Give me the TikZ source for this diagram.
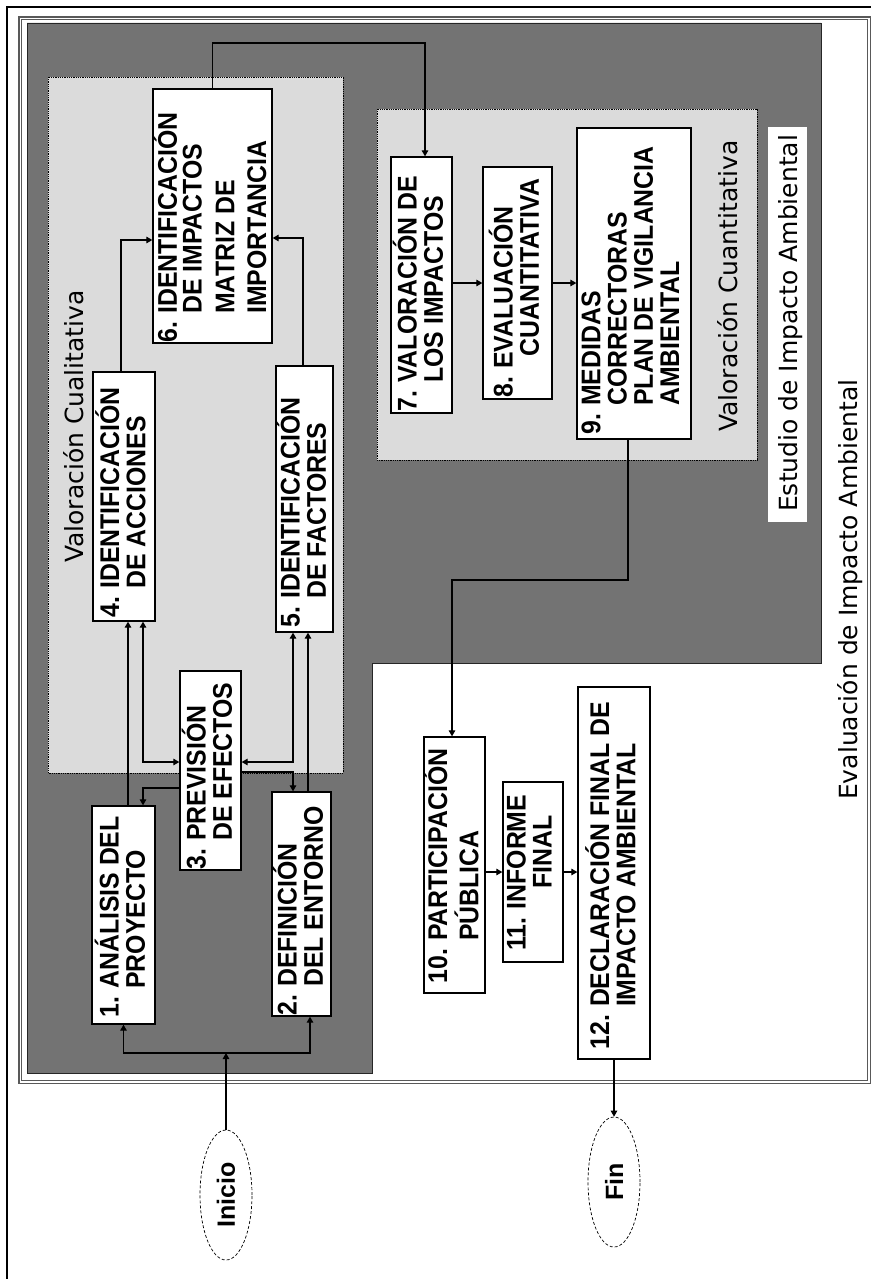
\documentclass[tikz,border=0pt]{standalone}
\usepackage{fontspec}
\setmainfont{Liberation Sans}
\newfontfamily\lblfont{DejaVu Sans}
\newfontfamily\boxfont[FakeStretch=0.92]{Liberation Sans}
\usetikzlibrary{arrows.meta,shapes.geometric}
\definecolor{darkfill}{gray}{0.45}
\definecolor{lightfill}{gray}{0.86}
\definecolor{framegray}{gray}{0.35}
\begin{document}
\begin{tikzpicture}[x=1pt,y=-1pt,
  darkarea/.style={fill=darkfill, draw=black!85, line width=0.8pt},
  lightarea/.style={fill=lightfill, draw=black, line width=0.8pt, densely dotted},
  box/.style={draw=black, fill=white, line width=1.3pt, inner sep=0pt},
  btext/.style={rotate=90, anchor=west, inner sep=0pt, align=left,
    font=\boxfont\fontsize{27}{25}\selectfont\bfseries},
  lbl/.style={rotate=90, anchor=base west, inner sep=0pt,
    font=\lblfont\fontsize{25}{27}\selectfont},
  term/.style={ellipse, draw=black, densely dashed, line width=0.7pt, fill=white,
    minimum width=52pt, minimum height=130pt, inner sep=0pt,
    font=\fontsize{25}{25}\selectfont\bfseries},
  arr/.style={line width=1.2pt, -{Triangle[length=6pt,width=6.5pt]}},
  arrboth/.style={line width=1.2pt, {Triangle[length=6pt,width=6.5pt]}-{Triangle[length=6pt,width=6.5pt]}}
]
\useasboundingbox (0,0) rectangle (871,1279);
\fill[white] (0,0) rectangle (871,1279);

% outer frame (only left and top visible)
\draw[line width=1.8pt] (7,1279) -- (7,7) -- (871,7);
% double frame: Evaluacion de Impacto Ambiental
\draw[framegray, line width=1.1pt] (19,17) rectangle (870.3,1083.3);
\draw[framegray, line width=1.1pt] (21.8,19.6) rectangle (867.8,1080.6);

% dark area: Estudio de Impacto Ambiental
\draw[darkarea] (27,23) -- (821,23) -- (821,663) -- (372,663) -- (372,1073) -- (27,1073) -- cycle;

% light areas
\draw[lightarea] (48,77) rectangle (343,773);
\draw[lightarea] (377,109) rectangle (757,460);

% label background
\fill[white] (768,127) rectangle (807,522);

% labels
\node[lbl] (lcual) at (83,563) {Valoración Cualitativa};
\node[lbl] (lcuan) at (737,432) {Valoración Cuantitativa};
\node[lbl] (lest) at (797,512) {Estudio de Impacto Ambiental};
\node[lbl] (leva) at (857,800) {Evaluación de Impacto Ambiental};

% boxes
\node[box, minimum width=63pt, minimum height=218pt] (b1) at (123.5,915) {};
\node[box, minimum width=59pt, minimum height=224pt] (b2) at (301.5,904) {};
\node[box, minimum width=61pt, minimum height=199pt] (b3) at (210.5,770.5) {};
\node[box, minimum width=62pt, minimum height=249pt] (b4) at (124,496.5) {};
\node[box, minimum width=57pt, minimum height=266pt] (b5) at (304.5,499) {};
\node[box, minimum width=119pt, minimum height=254pt] (b6) at (212.5,216) {};
\node[box, minimum width=61pt, minimum height=256pt] (b7) at (421.5,285) {};
\node[box, minimum width=69pt, minimum height=232pt] (b8) at (517.5,283) {};
\node[box, minimum width=114pt, minimum height=311pt] (b9) at (634,283.5) {};
\node[box, minimum width=61pt, minimum height=256pt] (b10) at (454.5,865) {};
\node[box, minimum width=60pt, minimum height=180pt] (b11) at (533,872) {};
\node[box, minimum width=72pt, minimum height=372pt] (b12) at (614,873) {};

% box texts
\node[btext] (t1) at ([yshift=7pt]b1.south) {\begin{tabular}{@{}l@{\hspace{8pt}}l@{}}1. & ANÁLISIS DEL\\ & PROYECTO\end{tabular}};
\node[btext] (t2) at ([yshift=1pt]b2.south) {\begin{tabular}{@{}l@{\hspace{8pt}}l@{}}2. & DEFINICIÓN\\ & DEL ENTORNO\end{tabular}};
\node[btext] (t3) at ([yshift=1pt]b3.south) {\begin{tabular}{@{}l@{\hspace{8pt}}l@{}}3. & PREVISIÓN\\ & DE EFECTOS\end{tabular}};
\node[btext] (t4) at ([yshift=4pt]b4.south) {\begin{tabular}{@{}l@{\hspace{8pt}}l@{}}4. & IDENTIFICACIÓN\\ & DE ACCIONES\end{tabular}};
\node[btext] (t5) at ([yshift=5pt]b5.south) {\begin{tabular}{@{}l@{\hspace{8pt}}l@{}}5. & IDENTIFICACIÓN\\ & DE FACTORES\end{tabular}};
\node[btext, font=\boxfont\fontsize{27}{20}\selectfont\bfseries] (t6) at ([yshift=1pt]b6.south) {\begin{tabular}{@{}l@{\hspace{8pt}}l@{}}6. & IDENTIFICACIÓN\\ & DE IMPACTOS\\[8pt] & MATRIZ DE\\[7pt] & IMPORTANCIA\end{tabular}};
\node[btext] (t7) at ([yshift=2pt]b7.south) {\begin{tabular}{@{}l@{\hspace{8pt}}l@{}}7. & VALORACIÓN DE\\ & LOS IMPACTOS\end{tabular}};
\node[btext] (t8) at ([yshift=2pt]b8.south) {\begin{tabular}{@{}l@{\hspace{8pt}}l@{}}8. & EVALUACIÓN\\ & \hspace{12pt}CUANTITATIVA\end{tabular}};
\node[btext] (t9) at ([yshift=5pt]b9.south) {\begin{tabular}{@{}l@{\hspace{8pt}}l@{}}9. & MEDIDAS\\ & CORRECTORAS\\ & PLAN DE VIGILANCIA\\ & AMBIENTAL\end{tabular}};
\node[btext] (t10) at ([yshift=10pt]b10.south) {\begin{tabular}{@{}l@{\hspace{8pt}}l@{}}10. & PARTICIPACIÓN\\ & PÚBLICA\end{tabular}};
\node[btext] (t11) at ([yshift=12pt]b11.south) {\begin{tabular}{@{}l@{\hspace{8pt}}c@{}}11. & INFORME\\ & FINAL\end{tabular}};
\node[btext] (t12) at ([yshift=10pt]b12.south) {\begin{tabular}{@{}l@{\hspace{8pt}}l@{}}12. & DECLARACIÓN FINAL DE\\ & IMPACTO AMBIENTAL\end{tabular}};

% terminals
\node[term] (inicio) at (226,1195) {\rotatebox{90}{Inicio}};
\node[term] (fin) at (614,1182) {\rotatebox{90}{Fin}};

% helper coordinates
\coordinate (j0) at (226,1053);
\coordinate (k1) at (425,43);
\coordinate (k2) at (452,580);

% connectors
\draw[arr] (inicio.north) -- (j0);
\draw[arr] (j0) -| (b1.south);
\draw[arr] (j0) -| ([xshift=8.5pt]b2.south);
\draw[arr] ([xshift=4.5pt]b1.north) -- ([xshift=4.5pt]b1.north |- b4.south);
\draw[arrboth] ([xshift=19pt]b4.south) |- ([yshift=8.5pt]b3.west);
\draw[arr] ([yshift=-17.5pt]b3.west) -| ([xshift=19.5pt]b1.north);
\draw[arrboth] ([xshift=-11.5pt]b5.south) |- ([yshift=8.5pt]b3.east);
\draw[arr] ([yshift=-1.5pt]b3.east) -| ([xshift=-8.5pt]b2.north);
\draw[arr] ([xshift=6.5pt]b2.north) -- ([xshift=6.5pt]b2.north |- b5.south);
\draw[arr] ([xshift=-3pt]b4.north) |- ([yshift=-24pt]b6.west);
\draw[arr] ([xshift=-1.5pt]b5.north) |- ([yshift=-22pt]b6.east);
\draw[arr] (b6.north) |- (k1) -- ([xshift=3.5pt]b7.north);
\draw[arr] (b7.east |- b8.west) -- (b8.west);
\draw[arr] (b8.east) -- (b8.east -| b9.west);
\draw[arr] ([xshift=-6pt]b9.south) |- (k2) -- ([xshift=-2.5pt]b10.north);
\draw[arr] (b10.east |- b11.west) -- (b11.west);
\draw[arr] (b11.east) -- (b11.east -| b12.west);
\draw[arr] (b12.south) -- (fin.north);
\end{tikzpicture}
\end{document}
